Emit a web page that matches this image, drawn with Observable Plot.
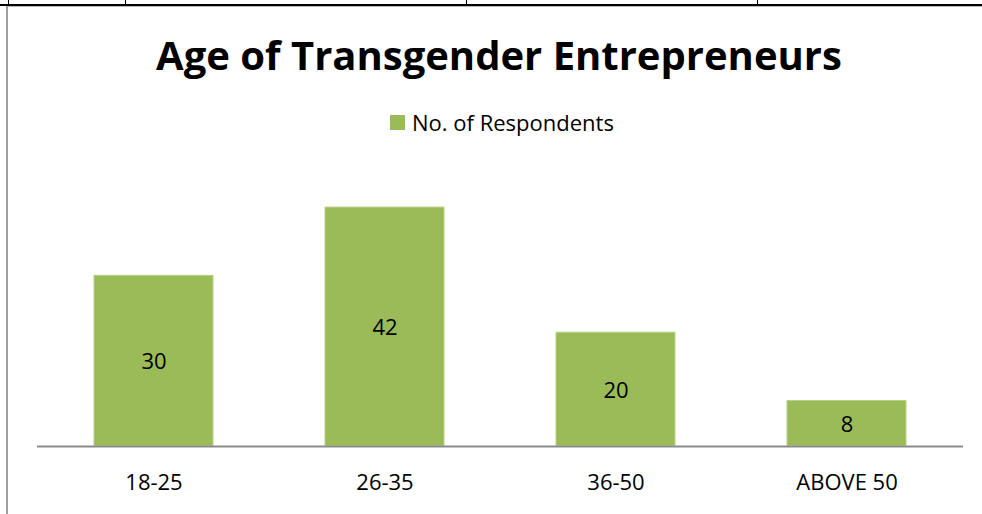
<!DOCTYPE html>
<html>
<head>
<meta charset="utf-8">
<script src="https://cdn.jsdelivr.net/npm/d3@7"></script>
<script src="https://cdn.jsdelivr.net/npm/@observablehq/plot@0.6"></script>
<style>
  html, body { margin: 0; padding: 0; background: #fff; }
  #wrap { position: relative; width: 982px; height: 514px; overflow: hidden; font-family: "Open Sans", sans-serif; }
  .abs { position: absolute; }
  #title { position: absolute; left: 0; width: 998px; text-align: center; top: 35px; font-weight: bold; font-size: 40px; line-height: 1; color: #000; white-space: nowrap; }
  #legend { position: absolute; left: 390px; top: 111px; font-size: 22px; line-height: 1; color: #000; white-space: nowrap; display: flex; align-items: center; }
  #legend .sw { width: 15px; height: 15px; background: #9BBB59; margin-right: 7px; }
  #chart { position: absolute; left: 0; top: 0; }
</style>
</head>
<body>
<div id="wrap">
  <!-- table row lines above the chart -->
  <div class="abs" style="left:0;top:4px;width:982px;height:2px;background:#000"></div>
  <div class="abs" style="left:8px;top:0;width:1px;height:5px;background:#000"></div>
  <div class="abs" style="left:125px;top:0;width:1px;height:5px;background:#000"></div>
  <div class="abs" style="left:466px;top:0;width:1px;height:5px;background:#000"></div>
  <div class="abs" style="left:757px;top:0;width:1px;height:5px;background:#000"></div>
  <!-- chart frame -->
  <div class="abs" style="left:6px;top:6px;width:976px;height:1px;background:#bbb"></div>
  <div class="abs" style="left:6px;top:6px;width:2px;height:508px;background:#a0a0a0"></div>
  <div id="chart"></div>
  <div id="title">Age of Transgender Entrepreneurs</div>
  <div id="legend"><div class="sw"></div><span id="legtext"></span></div>
</div>
<script>
const categories = ["18-25", "26-35", "36-50", "ABOVE 50"];
const respondents = [30, 42, 20, 8];
const seriesName = "No. of Respondents";

const data = categories.map((c, i) => ({category: c, value: respondents[i]}));
document.getElementById("legtext").textContent = seriesName;

const chart = Plot.plot({
  width: 982,
  height: 514,
  marginLeft: 37,
  marginRight: 19,
  marginTop: 190,
  marginBottom: 68,
  style: {fontFamily: "'Open Sans', sans-serif", background: "transparent"},
  x: {domain: categories, paddingInner: 0.486, paddingOuter: 0.243, label: null},
  y: {domain: [0, 45], axis: null},
  marks: [
    Plot.barY(data, {x: "category", y: "value", fill: "#9BBB59", stroke: "#b9d08a", strokeWidth: 1}),
    Plot.ruleY([0], {stroke: "#8c8c8c", strokeWidth: 2}),
    Plot.text(data, {x: "category", y: d => d.value / 2, text: d => String(d.value), fontSize: 22, dy: 1, fill: "#000"}),
    Plot.axisX({tickSize: 0, tickPadding: 28, fontSize: 22, fill: "#000", label: null})
  ]
});
document.getElementById("chart").appendChild(chart);
</script>
</body>
</html>
